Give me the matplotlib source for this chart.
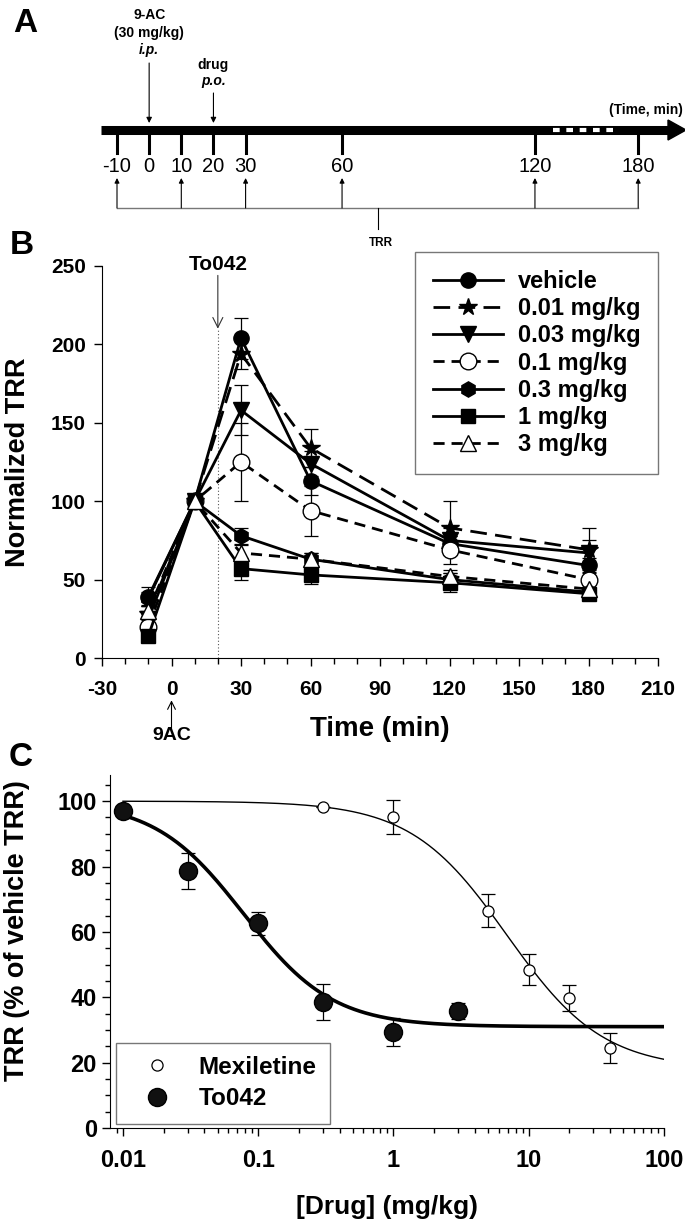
import matplotlib
matplotlib.use("Agg")
import matplotlib.pyplot as plt
import numpy as np
from matplotlib.ticker import MultipleLocator, LogLocator, NullFormatter, FixedLocator

plt.rcParams['font.family'] = ['Liberation Sans', 'DejaVu Sans']
plt.rcParams['axes.unicode_minus'] = False

# ---- panel A: protocol timeline ----
timeline_pts = [-10, 0, 10, 20, 30, 60, 120, 180]
trr_pts = [-10, 10, 30, 60, 120, 180]

# ---- panel B: TRR time course ----
time_b = [-10, 10, 30, 60, 120, 180]
series_labels = ['vehicle', '0.01 mg/kg', '0.03 mg/kg', '0.1 mg/kg',
                 '0.3 mg/kg', '1 mg/kg', '3 mg/kg']
vehicle = [39, 100, 204, 113, 73, 59]
dose_001 = [28, 100, 194, 134, 83, 69]
dose_003 = [25, 100, 158, 124, 75, 67]
dose_01 = [20, 100, 125, 94, 69, 50]
dose_03 = [38, 100, 78, 63, 50, 42]
dose_1 = [14, 100, 57, 53, 48, 41]
dose_3 = [30, 100, 67, 63, 52, 44]
err_vehicle = [6, 0, 13, 9, 5, 5]
err_001 = [5, 0, 10, 12, 17, 14]
err_003 = [4, 0, 16, 8, 8, 8]
err_01 = [4, 0, 25, 16, 9, 6]
err_03 = [4, 0, 5, 4, 4, 3]
err_1 = [3, 0, 7, 6, 6, 3]
err_3 = [3, 0, 5, 4, 4, 3]

# ---- panel C: dose response ----
mex_dose = [0.3, 1, 5, 10, 20, 40]
mex_trr = [98.3, 95.3, 66.5, 48.4, 39.8, 24.5]
mex_err = [0, 5.2, 5.1, 4.7, 4.1, 4.5]
to_dose = [0.01, 0.03, 0.1, 0.3, 1, 3]
to_trr = [97, 78.6, 62.6, 38.5, 29.5, 35.8]
to_err = [0, 5.6, 3.5, 5.6, 4.3, 2.4]
# fitted logistic parameters (top, bottom, ED50, hill)
mex_fit = (100, 18, 6.9, 1.22)
to_fit = (100, 31, 0.078, 1.32)

fig = plt.figure(figsize=(6.85, 12.25), dpi=100)

# ================= Panel A =================
axA = fig.add_axes([0, 1 - 250 / 1225, 1, 250 / 1225])
axA.set_xlim(0, 685)
axA.set_ylim(250, 0)
axA.axis('off')


def tpos(t):
    # broken time axis: linear to 120 min, compressed afterwards
    if t <= 120:
        return 117 + (t + 10) * 3.215
    return 535 + (t - 120) * 1.72


axA.plot([101, 670], [130, 130], color='black', lw=6.5, solid_capstyle='butt')
axA.fill([668, 686, 668], [120, 130, 140], color='black')
axA.plot([553, 615], [130, 130], color='white', lw=3, ls=(0, (1.6, 1.6)))
for t in timeline_pts:
    x = tpos(t)
    axA.plot([x, x], [130, 153], color='black', lw=2.2)
    axA.text(x, 167, str(t), ha='center', va='center', fontsize=14.5)
for t in trr_pts:
    x = tpos(t)
    axA.annotate('', xy=(x, 178), xytext=(x, 208),
                 arrowprops=dict(arrowstyle='-|>', color='black', lw=0.8,
                                 mutation_scale=7, shrinkA=0, shrinkB=0))
axA.plot([tpos(-10), tpos(180)], [208, 208], color='#777777', lw=1)
xc = (tpos(-10) + tpos(180)) / 2
axA.plot([xc, xc], [208, 229], color='black', lw=0.8)
axA.text(xc + 3, 243, 'TRR', ha='center', va='center', fontsize=8.5, fontweight='bold')

x0 = tpos(0)
axA.text(x0, 15, '9-AC', ha='center', va='center', fontsize=10, fontweight='bold')
axA.text(x0, 33, '(30 mg/kg)', ha='center', va='center', fontsize=10, fontweight='bold')
axA.text(x0, 50, 'i.p.', ha='center', va='center', fontsize=10, fontweight='bold',
         style='italic')
axA.annotate('', xy=(x0, 123), xytext=(x0, 63),
             arrowprops=dict(arrowstyle='-|>', color='black', lw=0.8,
                             mutation_scale=8, shrinkA=0, shrinkB=0))
x20 = tpos(20)
axA.text(x20, 65, 'drug', ha='center', va='center', fontsize=10, fontweight='bold')
axA.text(x20, 81, 'p.o.', ha='center', va='center', fontsize=10, fontweight='bold',
         style='italic')
axA.annotate('', xy=(x20, 123), xytext=(x20, 93),
             arrowprops=dict(arrowstyle='-|>', color='black', lw=0.8,
                             mutation_scale=8, shrinkA=0, shrinkB=0))
axA.text(683, 110, '(Time, min)', ha='right', va='center', fontsize=10, fontweight='bold')

fig.text(25 / 685, 1 - 23 / 1225, 'A', fontsize=24, fontweight='bold', ha='center', va='center')
fig.text(22 / 685, 1 - 245 / 1225, 'B', fontsize=24, fontweight='bold', ha='center', va='center')
fig.text(21 / 685, 1 - 757 / 1225, 'C', fontsize=24, fontweight='bold', ha='center', va='center')

# ================= Panel B =================
axB = fig.add_axes([102 / 685, 1 - 658 / 1225, 556 / 685, 392 / 1225])
series = [vehicle, dose_001, dose_003, dose_01, dose_03, dose_1, dose_3]
errs = [err_vehicle, err_001, err_003, err_01, err_03, err_1, err_3]
markers = ['o', '*', 'v', 'o', 'h', 's', '^']
msizes = [11, 13, 11, 12, 11, 10, 11]
faces = ['black', 'black', 'black', 'white', 'black', 'black', 'white']
styles = ['-', (0, (6, 3)), '-', (0, (4, 2.5)), '-', '-', (0, (4, 2.5))]
for vals, e, m, ms, fc, ls, lab in zip(series, errs, markers, msizes, faces, styles, series_labels):
    axB.errorbar(time_b, vals, yerr=e, fmt='none', ecolor='black', elinewidth=0.9,
                 capsize=5, capthick=0.9, zorder=2)
    axB.plot(time_b, vals, color='black', lw=2, ls=ls, marker=m, ms=ms,
             mfc=fc, mec='black', mew=1, label=lab, zorder=3)

axB.set_xlim(-30, 210)
axB.set_ylim(0, 250)
axB.xaxis.set_major_locator(MultipleLocator(30))
axB.xaxis.set_minor_locator(MultipleLocator(10))
axB.yaxis.set_major_locator(MultipleLocator(50))
axB.spines['top'].set_visible(False)
axB.spines['right'].set_visible(False)
axB.tick_params(axis='both', which='major', direction='out', length=5.5, width=1)
axB.tick_params(axis='x', which='minor', direction='out', length=4, width=1)
axB.tick_params(axis='x', which='major', pad=10)
axB.tick_params(axis='y', which='major', pad=6)
for lbl in axB.get_xticklabels() + axB.get_yticklabels():
    lbl.set_fontweight('bold')
    lbl.set_fontsize(15)
axB.set_xlabel('Time (min)', fontsize=20, fontweight='bold')
axB.xaxis.set_label_coords(0.5, -0.148)
axB.set_ylabel('Normalized TRR', fontsize=19.5, fontweight='bold')
axB.yaxis.set_label_coords(-0.127, 0.5)

axB.plot([20, 20], [0, 210], color='#555555', lw=0.8, ls=(0, (1, 2)), zorder=1)
axB.annotate('', xy=(20, 210), xytext=(20, 244),
             arrowprops=dict(arrowstyle='->', color='#333333', lw=0.8,
                             mutation_scale=18, shrinkA=0, shrinkB=0))
axB.text(20, 251, 'To042', ha='center', va='center', fontsize=15, fontweight='bold')
axB.annotate('', xy=(0, -0.108), xytext=(0, -0.185),
             xycoords=('data', 'axes fraction'), textcoords=('data', 'axes fraction'),
             arrowprops=dict(arrowstyle='->', color='black', lw=0.8,
                             mutation_scale=14, shrinkA=0, shrinkB=0))
axB.text(0, -0.198, '9AC', transform=axB.get_xaxis_transform(), ha='center', va='center',
         fontsize=14, fontweight='bold')

legB = axB.legend(loc='upper right', bbox_to_anchor=(1.0, 1.035), borderaxespad=0,
                  frameon=True, fancybox=False, edgecolor='#555555', handlelength=3.0,
                  handletextpad=0.6, borderpad=0.75, labelspacing=0.18,
                  prop={'weight': 'bold', 'size': 17})
legB.get_frame().set_linewidth(1)

# ================= Panel C =================
axC = fig.add_axes([110 / 685, 1 - 1128 / 1225, 554 / 685, 353 / 1225])


def logistic(x, p):
    top, bottom, ed50, hill = p
    return bottom + (top - bottom) / (1 + (x / ed50) ** hill)


xs = np.logspace(-2, 2, 300)
axC.plot(xs, logistic(xs, mex_fit), color='black', lw=1)
axC.plot(xs, logistic(xs, to_fit), color='black', lw=2.6)
axC.errorbar(mex_dose, mex_trr, yerr=mex_err, fmt='none', ecolor='black',
             elinewidth=0.9, capsize=5, capthick=0.9)
axC.errorbar(to_dose, to_trr, yerr=to_err, fmt='none', ecolor='black',
             elinewidth=0.9, capsize=5, capthick=0.9)
axC.plot(mex_dose, mex_trr, ls='none', marker='o', ms=8, mfc='white', mec='black',
         mew=0.9, label='Mexiletine')
axC.plot(to_dose, to_trr, ls='none', marker='o', ms=13, mfc='#111111', mec='black',
         label='To042')

axC.set_xscale('log')
axC.set_xlim(10 ** -2.096, 100)
axC.set_ylim(0, 108)
axC.xaxis.set_major_locator(FixedLocator([0.01, 0.1, 1, 10, 100]))
axC.set_xticklabels(['0.01', '0.1', '1', '10', '100'])
axC.xaxis.set_minor_locator(LogLocator(base=10, subs=np.arange(2, 10)))
axC.xaxis.set_minor_formatter(NullFormatter())
axC.yaxis.set_major_locator(FixedLocator([0, 20, 40, 60, 80, 100]))
axC.yaxis.set_minor_locator(MultipleLocator(5))
axC.spines['top'].set_visible(False)
axC.spines['right'].set_visible(False)
axC.tick_params(axis='both', which='major', direction='out', length=6, width=1)
axC.tick_params(axis='both', which='minor', direction='out', length=3.5, width=1)
axC.tick_params(axis='x', which='major', pad=9)
for lbl in axC.get_xticklabels() + axC.get_yticklabels():
    lbl.set_fontweight('bold')
    lbl.set_fontsize(17)
axC.set_xlabel('[Drug] (mg/kg)', fontsize=19, fontweight='bold')
axC.xaxis.set_label_coords(0.5, -0.19)
axC.set_ylabel('TRR (% of vehicle TRR)', fontsize=19.5, fontweight='bold')
axC.yaxis.set_label_coords(-0.144, 0.558)

legC = axC.legend(loc='lower left', bbox_to_anchor=(0.011, 0.012), borderaxespad=0,
                  frameon=True, fancybox=False, edgecolor='#555555', handlelength=2.3,
                  handletextpad=0.55, borderpad=0.55, labelspacing=0.35,
                  prop={'weight': 'bold', 'size': 17.5})
legC.get_frame().set_linewidth(1)

fig.savefig('out.png', dpi=100)
